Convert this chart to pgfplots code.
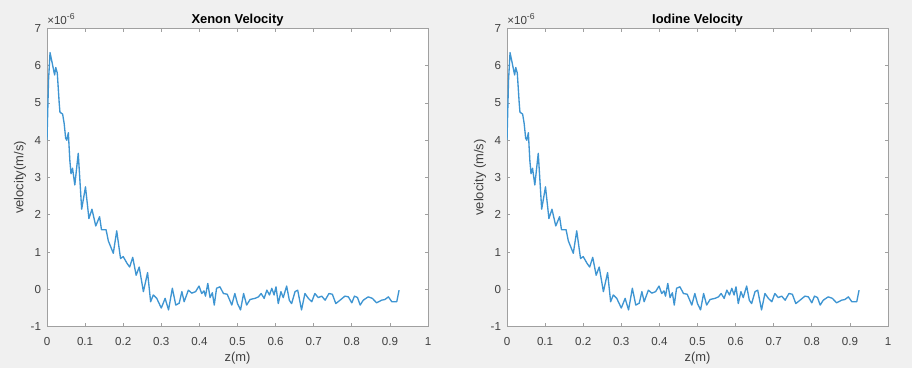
\documentclass[border=0pt]{standalone}
\usepackage{pgfplots}
\pgfplotsset{compat=1.18}
\usepackage{fontspec}
\setmainfont{Liberation Sans}
\definecolor{bg}{HTML}{F0F0F0}
\definecolor{axc}{HTML}{A0A0A0}
\definecolor{txt}{HTML}{404040}
\definecolor{line}{HTML}{3E95D2}
\newcommand{\vdata}{
(0,4.0) (0.004,5.6) (0.008,6.35) (0.015,6.0) (0.02,5.75) (0.023,5.95) (0.027,5.8) (0.032,5.0) (0.034,4.75)
(0.041,4.7) (0.045,4.45) (0.049,4.05) (0.052,4.0) (0.056,4.2) (0.06,3.45) (0.063,3.1) (0.067,3.25)
(0.073,2.8) (0.082,3.65) (0.091,2.15) (0.101,2.75) (0.11,1.9) (0.118,2.15) (0.128,1.7) (0.138,1.95)
(0.143,1.6) (0.155,1.6) (0.161,1.3) (0.174,0.97) (0.183,1.57) (0.193,0.83) (0.2,0.88) (0.21,0.7)
(0.217,0.6) (0.225,0.86) (0.234,0.38) (0.242,0.6) (0.253,-0.06) (0.264,0.45) (0.272,-0.33) (0.279,-0.15)
(0.288,-0.24) (0.3,-0.5) (0.31,-0.24) (0.319,-0.55) (0.329,0.03) (0.338,-0.42) (0.347,-0.37) (0.354,-0.06)
(0.36,-0.33) (0.371,-0.02) (0.38,-0.1) (0.39,-0.06) (0.399,0.09) (0.406,-0.11) (0.412,-0.04) (0.416,-0.18)
(0.422,0.16) (0.428,-0.22) (0.434,-0.09) (0.439,-0.42) (0.445,0.03) (0.454,0.07) (0.463,-0.11) (0.473,-0.13)
(0.485,-0.42) (0.493,-0.11) (0.5,-0.38) (0.508,-0.55) (0.516,-0.11) (0.524,-0.42) (0.533,-0.27) (0.546,-0.24)
(0.555,-0.2) (0.562,-0.11) (0.57,-0.24) (0.577,-0.02) (0.584,-0.15) (0.59,0.03) (0.596,-0.15) (0.601,0.07)
(0.607,-0.38) (0.614,-0.06) (0.62,-0.22) (0.629,0.09) (0.636,-0.29) (0.642,-0.38) (0.651,-0.06) (0.658,-0.02)
(0.668,-0.55) (0.677,-0.11) (0.686,-0.24) (0.695,-0.33) (0.703,-0.11) (0.712,-0.22) (0.721,-0.18) (0.73,-0.29)
(0.74,-0.11) (0.749,-0.13) (0.758,-0.38) (0.769,-0.29) (0.782,-0.18) (0.791,-0.2) (0.8,-0.36) (0.807,-0.18)
(0.815,-0.22) (0.822,-0.42) (0.83,-0.29) (0.843,-0.2) (0.854,-0.24) (0.865,-0.36) (0.878,-0.29) (0.887,-0.27)
(0.896,-0.2) (0.905,-0.33) (0.918,-0.33) (0.924,-0.02)
}
\pgfplotsset{
  mlab/.style={
    scale only axis,
    width=285.75pt, height=223.8pt,
    xmin=0, xmax=1, ymin=-1, ymax=7,
    xtick={0,0.1,...,1}, ytick={-1,0,...,7},
    tick align=inside, tick pos=both,
    major tick length=2.5pt,
    axis line style={axc, line width=0.6pt},
    tick style={axc, line width=0.6pt},
    axis background/.style={fill=white},
    /pgf/number format/assume math mode=true,
    ticklabel style={font=\fontsize{8.7}{10}\selectfont, text=txt},
    xticklabel style={yshift=-4.5pt},
    yticklabel style={xshift=-1pt},
    label style={font=\fontsize{9.7}{11}\selectfont, text=txt},
    xlabel={z(m)},
    xlabel style={yshift=2pt},
    ylabel style={yshift=-3.5pt},
    title style={font=\fontsize{9.7}{11}\selectfont\bfseries, text=black, yshift=-8pt},
    clip mode=individual,
  }
}
\begin{document}
\begin{tikzpicture}
\fill[bg] (0,0) rectangle (684pt,276pt);
\useasboundingbox (0,0) rectangle (684pt,276pt);
\begin{axis}[mlab, at={(35.25pt,30.975pt)}, anchor=south west,
  title={Xenon Velocity}, ylabel={velocity(m/s)}]
\addplot[line, line width=1pt, no marks, line join=round] coordinates {\vdata};
\node[anchor=south west, font=\fontsize{8.7}{10}\selectfont, text=txt, inner sep=0pt] at (rel axis cs:0,1) [yshift=2.5pt] {×10\raisebox{0.8ex}{\fontsize{6.5}{7}\selectfont -6}};
\end{axis}
\begin{axis}[mlab, at={(380.25pt,30.975pt)}, anchor=south west,
  title={Iodine Velocity}, ylabel={velocity (m/s)}]
\addplot[line, line width=1pt, no marks, line join=round] coordinates {\vdata};
\node[anchor=south west, font=\fontsize{8.7}{10}\selectfont, text=txt, inner sep=0pt] at (rel axis cs:0,1) [yshift=2.5pt] {×10\raisebox{0.8ex}{\fontsize{6.5}{7}\selectfont -6}};
\end{axis}
\end{tikzpicture}
\end{document}
